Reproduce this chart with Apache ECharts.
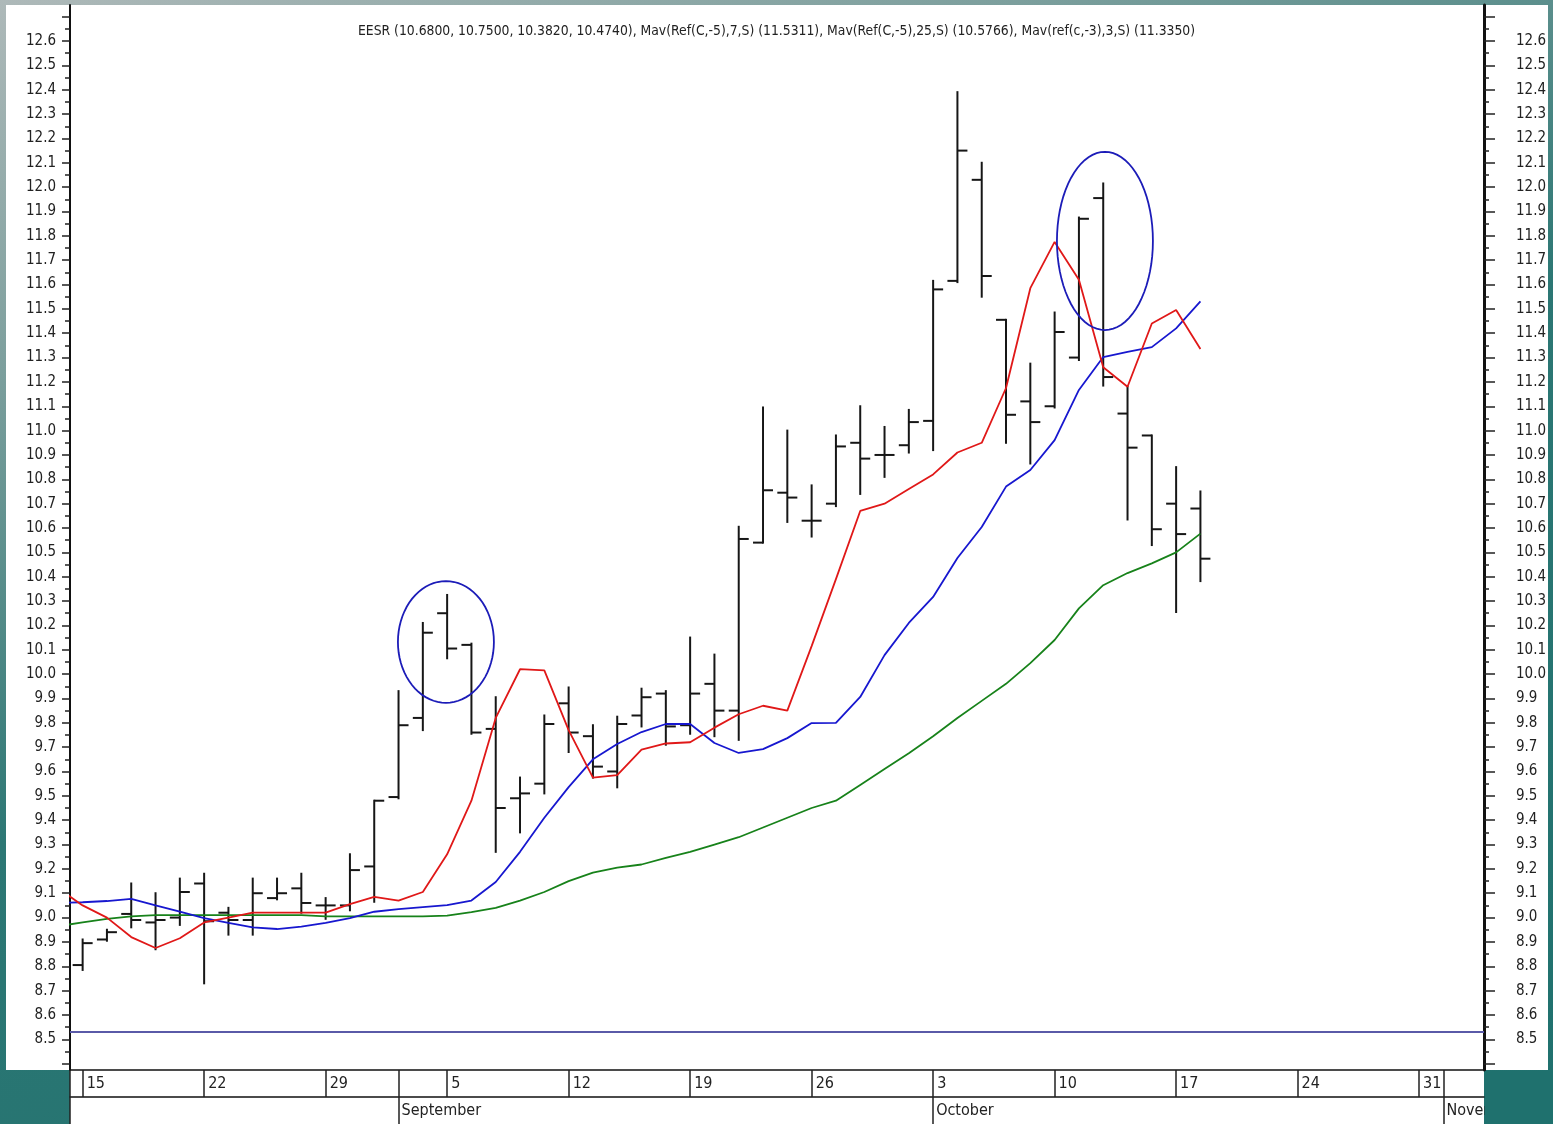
<html>
<head>
<meta charset="utf-8">
<script src="https://cdn.jsdelivr.net/npm/echarts@6/dist/echarts.min.js"></script>
<style>
html, body { margin: 0; padding: 0; }
#chart-main { width: 1553px; height: 1124px; background: linear-gradient(160deg, #aeb9b9 0%, #7c9f9d 22%, #2c7774 50%, #1f716e 100%); }
</style>
</head>
<body>
<div id="chart-main"></div>

<script type="text/javascript">
// trading day index, 0 = Aug 15
var dayIndex = [0,1,2,3,4,5,6,7,8,9,10,11,12,13,14,15,16,17,18,19,20,21,22,23,24,25,26,27,28,29,30,31,32,33,34,35,36,37,38,39,40,41,42,43,44,45,46];
var barOpen  = [8.805,8.91,9.015,8.98,9.0,9.14,9.02,8.99,9.08,9.12,9.05,9.05,9.21,9.495,9.82,10.25,10.12,9.775,9.49,9.55,9.88,9.745,9.60,9.83,9.92,9.79,9.96,9.85,10.54,10.745,10.63,10.70,10.95,10.90,10.94,11.04,11.615,12.03,11.455,11.12,11.10,11.30,11.955,11.07,10.98,10.70,10.68];
var barHigh  = [8.91,8.95,9.14,9.10,9.16,9.18,9.04,9.16,9.16,9.18,9.08,9.26,9.48,9.93,10.21,10.325,10.125,9.905,9.575,9.83,9.945,9.79,9.825,9.94,9.93,10.15,10.08,10.605,11.095,11.0,10.775,10.98,11.10,11.015,11.085,11.615,12.39,12.10,11.455,11.275,11.485,11.875,12.015,11.18,10.98,10.85,10.75];
var barLow   = [8.785,8.905,8.96,8.87,8.97,8.73,8.93,8.93,9.075,9.02,8.995,9.03,9.065,9.49,9.77,10.065,9.755,9.27,9.35,9.51,9.68,9.575,9.535,9.785,9.71,9.755,9.745,9.73,10.54,10.625,10.565,10.69,10.74,10.81,10.91,10.92,11.61,11.55,10.95,10.865,11.095,11.29,11.185,10.635,10.53,10.255,10.382];
var barClose = [8.895,8.94,8.99,8.99,9.105,8.985,8.99,9.10,9.10,9.06,9.05,9.195,9.48,9.79,10.17,10.105,9.76,9.45,9.51,9.795,9.76,9.62,9.795,9.905,9.785,9.92,9.85,10.555,10.755,10.725,10.63,10.935,10.885,10.90,11.035,11.58,12.15,11.635,11.065,11.035,11.405,11.87,11.22,10.93,10.595,10.575,10.474];

// moving averages start one day before the first visible bar
var maIndex = [-1].concat(dayIndex);
var maRef3 = [9.12,9.05,9.0,8.92,8.875,8.915,8.98,9.0,9.02,9.02,9.02,9.02,9.055,9.085,9.07,9.105,9.26,9.48,9.82,10.02,10.015,9.77,9.575,9.585,9.69,9.715,9.72,9.78,9.835,9.87,9.85,10.115,10.39,10.67,10.70,10.76,10.82,10.91,10.95,11.175,11.585,11.775,11.62,11.26,11.18,11.44,11.495,11.335];
var maRef7 = [9.06,9.063,9.068,9.077,9.05,9.024,8.998,8.978,8.96,8.953,8.963,8.978,8.998,9.024,9.035,9.043,9.051,9.07,9.146,9.27,9.41,9.536,9.65,9.713,9.762,9.795,9.795,9.717,9.676,9.692,9.737,9.799,9.80,9.906,10.078,10.21,10.317,10.477,10.604,10.77,10.838,10.961,11.167,11.302,11.323,11.343,11.42,11.531];
var maRef25 = [8.965,8.98,8.995,9.005,9.01,9.01,9.01,9.01,9.01,9.01,9.01,9.005,9.005,9.005,9.005,9.005,9.008,9.022,9.04,9.07,9.105,9.15,9.185,9.205,9.218,9.245,9.27,9.30,9.33,9.37,9.41,9.45,9.48,9.545,9.61,9.675,9.745,9.82,9.89,9.96,10.045,10.14,10.27,10.365,10.415,10.455,10.50,10.577];

// hand drawn circles: centre day, centre price, half width (days), half height (price)
var circleDay = [14.95, 42.07];
var circlePrice = [10.132, 11.779];
var circleHalfDays = [1.975, 1.975];
var circleHalfPrice = [0.25, 0.366];

var supportLevel = 8.53;

// axis labels
var yLabels = ['8.5','8.6','8.7','8.8','8.9','9.0','9.1','9.2','9.3','9.4','9.5','9.6','9.7','9.8','9.9','10.0','10.1','10.2','10.3','10.4','10.5','10.6','10.7','10.8','10.9','11.0','11.1','11.2','11.3','11.4','11.5','11.6','11.7','11.8','11.9','12.0','12.1','12.2','12.3','12.4','12.5','12.6'];
var weekStarts = [0,5,10,15,20,25,30,35,40,45,50,55];
var dayLabels = ['15','22','29','5','12','19','26','3','10','17','24','31'];
var monthStarts = [13,35,56];
var monthLabels = ['September','October','November'];

var FONT = "'Liberation Sans Narrow', 'DejaVu Sans Condensed', 'Liberation Sans', sans-serif";
var xMin = -0.52, xMax = 57.67;
var yMin = 8.374, yMax = 12.748;

var majorTicks = [8.4].concat(yLabels.map(Number), [12.7]);
var minorTicks = majorTicks.slice(0, -1).map(function (v) { return +(v + 0.05).toFixed(2); });
var dayTicks = [xMin].concat(weekStarts, monthStarts);
var monthTicks = [xMin].concat(monthStarts);

var myChart = echarts.init(document.getElementById('chart-main'));

function renderBar(params, api) {
	var d = api.value(0);
	var o = api.coord([d, api.value(1)]);
	var h = api.coord([d, api.value(2)]);
	var l = api.coord([d, api.value(3)]);
	var c = api.coord([d, api.value(4)]);
	var st = { stroke: '#161616', lineWidth: 2 };
	return {
		type: 'group',
		children: [
			{ type: 'line', shape: { x1: h[0], y1: h[1] - 1, x2: l[0], y2: l[1] + 1 }, style: st },
			{ type: 'line', shape: { x1: o[0] - 10, y1: o[1], x2: o[0], y2: o[1] }, style: st },
			{ type: 'line', shape: { x1: c[0], y1: c[1], x2: c[0] + 10, y2: c[1] }, style: st }
		]
	};
}

function renderCircle(params, api) {
	var c = api.coord([api.value(0), api.value(1)]);
	var s = api.size([api.value(2), api.value(3)]);
	var pts = [];
	for (var k = 0; k <= 72; k++) {
		var a = k / 72 * Math.PI * 2;
		pts.push([c[0] + s[0] * Math.cos(a), c[1] + s[1] * Math.sin(a)]);
	}
	return { type: 'polyline', shape: { points: pts }, style: { stroke: '#1c1cb8', lineWidth: 1.8, fill: null } };
}

function yAxisPart(pos, showLine, lineWidth, ticks, tickLen, withLabels, margin) {
	return {
		type: 'value', position: pos, min: yMin, max: yMax,
		axisLine: { show: showLine, onZero: false, lineStyle: { color: '#111', width: lineWidth } },
		axisTick: { show: true, length: tickLen, customValues: ticks, lineStyle: { color: '#222', width: 1.5 } },
		axisLabel: {
			show: withLabels, customValues: yLabels.map(Number), margin: margin,
			formatter: function (v) { return v.toFixed(1); },
			color: '#222', fontSize: 15, fontFamily: FONT
		},
		splitLine: { show: false }
	};
}

var option = {
	animation: false,
	title: {
		text: 'EESR (10.6800, 10.7500, 10.3820, 10.4740), Mav(Ref(C,-5),7,S) (11.5311), Mav(Ref(C,-5),25,S) (10.5766), Mav(ref(c,-3),3,S) (11.3350)',
		left: 'center', top: 19,
		textStyle: { fontFamily: FONT, fontSize: 13.8, fontWeight: 'normal', color: '#222' }
	},
	graphic: [
		{ type: 'rect', z: -10, shape: { x: 6, y: 5, width: 64, height: 1065 }, style: { fill: '#fff' } },
		{ type: 'rect', z: -10, shape: { x: 1484, y: 5, width: 64, height: 1065 }, style: { fill: '#fff' } },
		{ type: 'rect', z: -10, shape: { x: 70, y: 1070, width: 1414, height: 54 }, style: { fill: '#fff' } },
		{ type: 'rect', z: 100, shape: { x: 1485, y: 1071, width: 68, height: 53 }, style: { fill: '#1f716e' } }
	],
	grid: { left: 70, right: 69, top: 5, bottom: 54, show: true, backgroundColor: '#fff', borderWidth: 0 },
	xAxis: [
		{
			type: 'value', min: xMin, max: xMax, position: 'bottom', offset: 0,
			axisLine: { show: true, onZero: false, lineStyle: { color: '#111', width: 1.5 } },
			axisTick: { show: true, length: 27, customValues: dayTicks, lineStyle: { color: '#222', width: 1.5 } },
			axisLabel: {
				customValues: weekStarts,
				formatter: function (v) { return dayLabels[weekStarts.indexOf(v)]; },
				align: 'left', verticalAlign: 'middle', margin: 14, padding: [0, 0, 0, 4],
				color: '#222', fontSize: 16, fontFamily: FONT
			},
			splitLine: { show: false }
		},
		{
			type: 'value', min: xMin, max: xMax, position: 'bottom', offset: 27,
			axisLine: { show: true, onZero: false, lineStyle: { color: '#111', width: 1.5 } },
			axisTick: { show: true, length: 27, customValues: monthTicks, lineStyle: { color: '#222', width: 1.5 } },
			axisLabel: {
				customValues: monthStarts,
				formatter: function (v) { return monthLabels[monthStarts.indexOf(v)]; },
				align: 'left', verticalAlign: 'middle', margin: 14, padding: [0, 0, 0, 3],
				color: '#222', fontSize: 16, fontFamily: FONT
			},
			splitLine: { show: false }
		}
	],
	yAxis: [
		yAxisPart('left', true, 2, majorTicks, 8, true, 14),
		yAxisPart('left', false, 2, minorTicks, 5, false, 14),
		yAxisPart('right', true, 3, majorTicks, 11, true, 32),
		yAxisPart('right', false, 3, minorTicks, 5, false, 32)
	],
	series: [
		{
			name: 'EESR', type: 'custom', renderItem: renderBar, clip: true, z: 2,
			encode: { x: 0, y: [1, 2, 3, 4] },
			data: dayIndex.map(function (d, k) { return [d, barOpen[k], barHigh[k], barLow[k], barClose[k]]; })
		},
		{
			name: 'Mav(Ref(C,-5),25,S)', type: 'line', symbol: 'none', clip: true, z: 3,
			lineStyle: { color: '#17821a', width: 1.8 },
			data: maIndex.map(function (d, k) { return [d, maRef25[k]]; }),
			markLine: {
				silent: true, symbol: ['none', 'none'], label: { show: false },
				lineStyle: { color: '#5a5aa8', width: 2, type: 'solid' },
				data: [{ yAxis: supportLevel }]
			}
		},
		{
			name: 'Mav(Ref(C,-5),7,S)', type: 'line', symbol: 'none', clip: true, z: 3,
			lineStyle: { color: '#1717cf', width: 1.8 },
			data: maIndex.map(function (d, k) { return [d, maRef7[k]]; })
		},
		{
			name: 'Mav(ref(c,-3),3,S)', type: 'line', symbol: 'none', clip: true, z: 3,
			lineStyle: { color: '#e01818', width: 1.8 },
			data: maIndex.map(function (d, k) { return [d, maRef3[k]]; })
		},
		{
			name: 'circles', type: 'custom', renderItem: renderCircle, clip: true, z: 4,
			data: circleDay.map(function (d, k) { return [d, circlePrice[k], circleHalfDays[k], circleHalfPrice[k]]; })
		}
	]
};

myChart.setOption(option);
</script>
</body>
</html>
